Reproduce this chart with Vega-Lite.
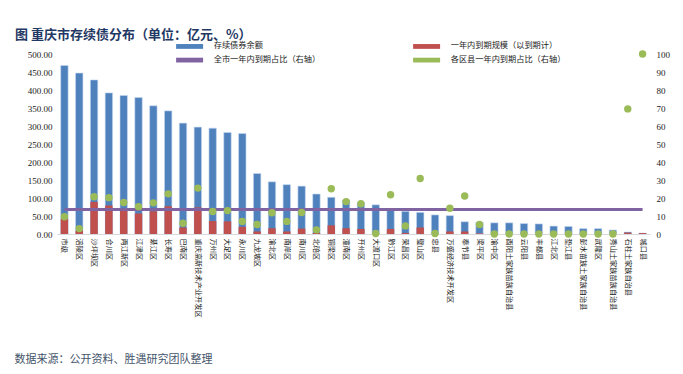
{
  "$schema": "https://vega.github.io/schema/vega-lite/v6.json",
  "width": 593,
  "height": 180,
  "autosize": {"type": "none"},
  "padding": {"left": 57, "top": 54, "right": 33, "bottom": 140},
  "background": "white",
  "title": {
    "text": "图  重庆市存续债分布（单位：亿元、%）",
    "anchor": "start",
    "frame": "group",
    "dx": -42,
    "offset": 0,
    "font": "Noto Sans CJK SC",
    "fontSize": 13,
    "fontWeight": "bold",
    "color": "#1F3864"
  },
  "data": {
    "values": [
      {"name": "市级", "total": 468, "due": 42, "ratio": 9.6, "all": 13.6},
      {"name": "涪陵区", "total": 447, "due": 9, "ratio": 3, "all": 13.6},
      {"name": "沙坪坝区", "total": 428, "due": 89, "ratio": 20.7, "all": 13.6},
      {"name": "合川区", "total": 392, "due": 79, "ratio": 20.2, "all": 13.6},
      {"name": "两江新区", "total": 385, "due": 68, "ratio": 17.5, "all": 13.6},
      {"name": "江津区", "total": 379, "due": 57, "ratio": 15.2, "all": 13.6},
      {"name": "綦江区", "total": 356, "due": 63, "ratio": 17.3, "all": 13.6},
      {"name": "长寿区", "total": 342, "due": 77, "ratio": 22.3, "all": 13.6},
      {"name": "巴南区", "total": 308, "due": 18, "ratio": 6, "all": 13.6},
      {"name": "重庆高新技术产业开发区", "total": 297, "due": 74, "ratio": 25.5, "all": 13.6},
      {"name": "万州区", "total": 294, "due": 36, "ratio": 12.5, "all": 13.6},
      {"name": "大足区", "total": 282, "due": 35, "ratio": 13, "all": 13.6},
      {"name": "永川区", "total": 279, "due": 20, "ratio": 7, "all": 13.6},
      {"name": "九龙坡区", "total": 168, "due": 7, "ratio": 5.3, "all": 13.6},
      {"name": "渝北区", "total": 145, "due": 16, "ratio": 11.8, "all": 13.6},
      {"name": "南岸区", "total": 137, "due": 7, "ratio": 7, "all": 13.6},
      {"name": "南川区", "total": 133, "due": 15, "ratio": 11.9, "all": 13.6},
      {"name": "北碚区", "total": 111, "due": 2.5, "ratio": 2.3, "all": 13.6},
      {"name": "铜梁区", "total": 102, "due": 24, "ratio": 25.1, "all": 13.6},
      {"name": "潼南区", "total": 94, "due": 16, "ratio": 18, "all": 13.6},
      {"name": "开州区", "total": 87, "due": 14, "ratio": 16.8, "all": 13.6},
      {"name": "大渡口区", "total": 81, "due": 0.3, "ratio": 0.3, "all": 13.6},
      {"name": "黔江区", "total": 71, "due": 14, "ratio": 21.8, "all": 13.6},
      {"name": "荣昌区", "total": 63, "due": 3, "ratio": 4.5, "all": 13.6},
      {"name": "璧山区", "total": 60, "due": 18, "ratio": 30.8, "all": 13.6},
      {"name": "忠县", "total": 53, "due": 0.2, "ratio": 0.3, "all": 13.6},
      {"name": "万盛经济技术开发区", "total": 51, "due": 7, "ratio": 14.3, "all": 13.6},
      {"name": "奉节县", "total": 34, "due": 7, "ratio": 21.1, "all": 13.6},
      {"name": "梁平区", "total": 32, "due": 1.7, "ratio": 5.3, "all": 13.6},
      {"name": "渝中区", "total": 31, "due": 0, "ratio": 0, "all": 13.6},
      {"name": "酉阳土家族苗族自治县", "total": 31, "due": 0, "ratio": 0, "all": 13.6},
      {"name": "云阳县", "total": 29, "due": 0, "ratio": 0, "all": 13.6},
      {"name": "丰都县", "total": 28, "due": 0, "ratio": 0, "all": 13.6},
      {"name": "江北区", "total": 22, "due": 0, "ratio": 0, "all": 13.6},
      {"name": "垫江县", "total": 21, "due": 0, "ratio": 0, "all": 13.6},
      {"name": "彭水苗族土家族自治县", "total": 15, "due": 0, "ratio": 0, "all": 13.6},
      {"name": "武隆区", "total": 15, "due": 0, "ratio": 0, "all": 13.6},
      {"name": "秀山土家族苗族自治县", "total": 11, "due": 0, "ratio": 0, "all": 13.6},
      {"name": "石柱土家族自治县", "total": 5.5, "due": 3.8, "ratio": 69.5, "all": 13.6},
      {"name": "城口县", "total": 2.5, "due": 2.5, "ratio": 100, "all": 13.6}
    ]
  },
  "encoding": {
    "x": {
      "field": "name",
      "type": "nominal",
      "sort": null,
      "scale": {"paddingInner": 0.5, "paddingOuter": 0.25},
      "axis": {
        "title": "数据来源：公开资料、胜遇研究团队整理",
        "titleFont": "Noto Sans CJK SC",
        "titleFontSize": 11,
        "titleFontWeight": "normal",
        "titleColor": "#44546A",
        "titleAnchor": "start",
        "titleAlign": "left",
        "titleBaseline": "middle",
        "titleX": -43,
        "titleY": 125,
        "labelAngle": 90,
        "labelAlign": "left",
        "labelBaseline": "middle",
        "labelFont": "Noto Sans CJK SC",
        "labelFontSize": 7.2,
        "labelColor": "#222222",
        "labelPadding": 4,
        "labelOverlap": false,
        "labelLimit": 200,
        "ticks": false,
        "domainColor": "#d9d9d9",
        "domainWidth": 1
      }
    }
  },
  "layer": [
    {
      "layer": [
        {
          "mark": {"type": "bar", "stroke": "#c6d9f1", "strokeWidth": 0.6},
          "encoding": {
            "y": {
              "field": "total",
              "type": "quantitative",
              "scale": {"domain": [0, 500]},
              "axis": {
                "title": null,
                "values": [0, 50, 100, 150, 200, 250, 300, 350, 400, 450, 500],
                "tickCount": 11,
                "format": ".2f",
                "grid": false,
                "domain": false,
                "ticks": false,
                "labelOverlap": false,
                "labelFont": "Liberation Serif",
                "labelFontSize": 9,
                "labelColor": "#222222",
                "labelPadding": 5
              }
            },
            "color": {
              "datum": "存续债券余额",
              "scale": {
                "domain": ["存续债券余额", "一年内到期规模（以到期计）", "全市一年内到期占比（右轴）", "各区县一年内到期占比（右轴）"],
                "range": ["#4F81BD", "#C0504D", "#8064A2", "#9BBB59"]
              },
              "legend": {
                "title": null,
                "orient": "none",
                "legendX": 120,
                "legendY": -12,
                "direction": "horizontal",
                "columns": 2,
                "columnPadding": 92,
                "rowPadding": 5,
                "labelFont": "Noto Sans CJK SC",
                "labelFontSize": 8.2,
                "labelColor": "#222222",
                "labelLimit": 250,
                "labelOffset": 20,
                "symbolOffset": 8.5,
                "symbolSize": 64,
                "symbolStrokeWidth": 0,
                "symbolType": "M-3.375,-0.6H3.375V0.6H-3.375Z",
                "encode": {
                  "symbols": {
                    "update": {
                      "shape": {"signal": "datum.value === '各区县一年内到期占比（右轴）' ? 'M-0.7,0A0.7,0.7,0,1,0,0.7,0A0.7,0.7,0,1,0,-0.7,0Z' : datum.value === '全市一年内到期占比（右轴）' ? 'M-3.375,-0.4H3.375V0.4H-3.375Z' : 'M-3.375,-0.6H3.375V0.6H-3.375Z'"},
                      "fill": {"scale": "color", "field": "value"},
                      "stroke": {"value": "transparent"},
                      "opacity": {"value": 1}
                    }
                  }
                }
              }
            }
          }
        },
        {
          "mark": {"type": "bar"},
          "encoding": {
            "y": {
              "field": "due",
              "type": "quantitative",
              "axis": {
                "title": null,
                "values": [0, 50, 100, 150, 200, 250, 300, 350, 400, 450, 500],
                "tickCount": 11,
                "format": ".2f",
                "grid": false,
                "domain": false,
                "ticks": false,
                "labelOverlap": false,
                "labelFont": "Liberation Serif",
                "labelFontSize": 9,
                "labelColor": "#222222",
                "labelPadding": 5
              }
            },
            "color": {"datum": "一年内到期规模（以到期计）"}
          }
        }
      ]
    },
    {
      "layer": [
        {
          "mark": {"type": "line", "strokeWidth": 3},
          "encoding": {
            "y": {
              "field": "all",
              "type": "quantitative",
              "scale": {"domain": [0, 100]},
              "axis": {
                "title": null,
                "orient": "right",
                "values": [0, 10, 20, 30, 40, 50, 60, 70, 80, 90, 100],
                "tickCount": 11,
                "grid": false,
                "domain": false,
                "ticks": false,
                "labelOverlap": false,
                "labelFont": "Liberation Serif",
                "labelFontSize": 9,
                "labelColor": "#222222",
                "labelPadding": 6
              }
            },
            "color": {"datum": "全市一年内到期占比（右轴）"}
          }
        },
        {
          "mark": {"type": "point", "filled": true, "opacity": 1, "size": 55},
          "encoding": {
            "y": {
              "field": "ratio",
              "type": "quantitative",
              "axis": {
                "title": null,
                "orient": "right",
                "values": [0, 10, 20, 30, 40, 50, 60, 70, 80, 90, 100],
                "tickCount": 11,
                "grid": false,
                "domain": false,
                "ticks": false,
                "labelOverlap": false,
                "labelFont": "Liberation Serif",
                "labelFontSize": 9,
                "labelColor": "#222222",
                "labelPadding": 6
              }
            },
            "color": {"datum": "各区县一年内到期占比（右轴）"}
          }
        }
      ]
    }
  ],
  "resolve": {"scale": {"y": "independent"}},
  "config": {
    "view": {"stroke": null},
    "font": "Noto Sans CJK SC",
    "axis": {"labelOverlap": false}
  }
}
